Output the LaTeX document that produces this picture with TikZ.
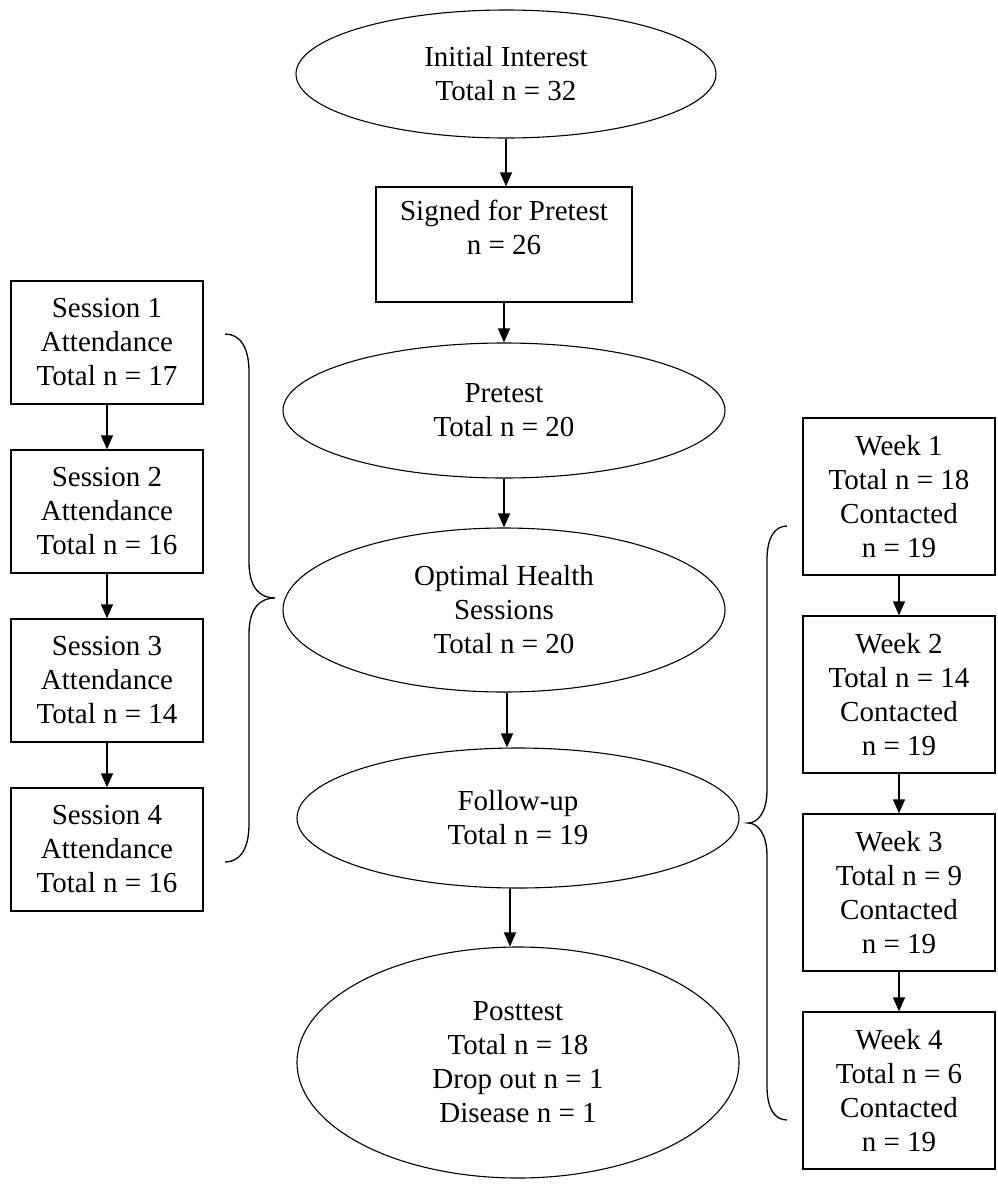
\documentclass[tikz,border=0pt]{standalone}
\usepackage{fontspec}
\setmainfont{Liberation Serif}
\usetikzlibrary{arrows.meta}
\usetikzlibrary{shapes.geometric}
\newcommand{\flfont}{\fontsize{29}{34}\selectfont}
\tikzset{
  flbox/.style={
    draw, line width=1.3pt, minimum width=192pt, inner sep=0pt,
    align=center, font=\flfont},
  flstage/.style={
    draw, ellipse, line width=1.1pt, inner sep=0pt,
    align=center, font=\flfont},
  flarrow/.style={-{Triangle[length=14pt, width=12pt]}, line width=1.3pt},
  flbrace/.style={line width=1.3pt},
}

\begin{document}
\begin{tikzpicture}[x=1pt, y=-1pt]
\useasboundingbox (0, 0) rectangle (997, 1195);

% Main stages down the middle.
\node[flstage, minimum width=420pt, minimum height=128pt]
  (initial) at (506, 74) {Initial Interest\\Total n = 32};
\node[flbox, minimum width=256pt, minimum height=115pt]
  (signed) at (504, 244.5) {Signed for Pretest\\n = 26\\\mbox{}};
\node[flstage, minimum width=442pt, minimum height=135pt]
  (pretest) at (504, 410.5) {Pretest\\Total n = 20};
\node[flstage, minimum width=442pt, minimum height=164pt]
  (optimal) at (504, 610) {Optimal Health\\Sessions\\Total n = 20};
\node[flstage, minimum width=442pt, minimum height=140pt]
  (followup) at (518, 818) {Follow-up\\Total n = 19};
\node[flstage, minimum width=442pt, minimum height=231pt]
  (posttest) at (518, 1062.5)
  {Posttest\\Total n = 18\\Drop out n = 1\\Disease n = 1};

\draw[flarrow] (initial.south) -- (initial.south |- signed.north);
\draw[flarrow] (signed.south) -- (signed.south |- pretest.north);
\draw[flarrow] (pretest.south) -- (pretest.south |- optimal.north);
\draw[flarrow] ([xshift=3pt]optimal.south)
  -- ([xshift=3pt]optimal.south |- followup.north);
\draw[flarrow] ([xshift=-8pt]followup.south)
  -- ([xshift=-8pt]followup.south |- posttest.north);

% Session attendance, left column.
\foreach \i/\n in {1/17, 2/16, 3/14, 4/16} {
  \node[flbox, minimum height=123pt]
    (s\i) at (107, 173.5 + \i * 169) {Session \i\\Attendance\\Total n = \n};
}
\foreach \i/\j in {1/2, 2/3, 3/4}
  \draw[flarrow] (s\i) -- (s\j);

% Weekly follow-up, right column.
\foreach \i/\n in {1/18, 2/14, 3/9, 4/6} {
  \node[flbox, minimum height=157pt]
    (w\i) at (899, 298.5 + \i * 198)
    {Week \i\\Total n = \n\\Contacted\\n = 19};
}
\foreach \i/\j in {1/2, 2/3, 3/4}
  \draw[flarrow] (w\i) -- (w\j);

% Braces grouping the columns.
\draw[flbrace] (225, 334) .. controls (240, 334) and (249, 347) .. (249, 372)
  -- (249, 562) .. controls (249, 588) and (260, 598) .. (275, 598)
  .. controls (260, 598) and (249, 608) .. (249, 634)
  -- (249, 824) .. controls (249, 849) and (240, 862) .. (225, 862);
\draw[flbrace] (787, 526) .. controls (775, 526) and (767, 537) .. (767, 560)
  -- (767, 790) .. controls (767, 812) and (758, 823) .. (748, 823)
  .. controls (758, 823) and (767, 834) .. (767, 856)
  -- (767, 1086) .. controls (767, 1109) and (775, 1120) .. (787, 1120);

\end{tikzpicture}
\end{document}
